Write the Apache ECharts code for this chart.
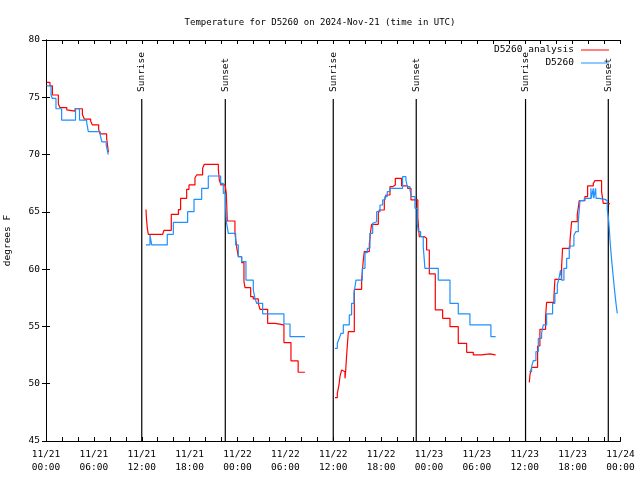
<!DOCTYPE html>
<html>
<head>
<meta charset="utf-8">
<script src="https://cdn.jsdelivr.net/npm/echarts@6/dist/echarts.min.js"></script>
<style>html,body{margin:0;padding:0;background:#fff}#c{width:640px;height:480px}</style>
</head>
<body>
<div id="c"></div>
<script>
// Hours since 2024-11-21 00:00 UTC
const tickLabels = ['11/21\n00:00','11/21\n06:00','11/21\n12:00','11/21\n18:00','11/22\n00:00','11/22\n06:00','11/22\n12:00','11/22\n18:00','11/23\n00:00','11/23\n06:00','11/23\n12:00','11/23\n18:00','11/24\n00:00'];

// null temperature = gap between data runs
const analysisHours = [
  0.08,0.5,0.8,1.55,1.75,2.6,2.8,3.64,4.56,4.8,5.6,5.8,6.6,6.77,7.6,7.75,7.82,
  7.82,
  12.53,12.6,12.7,12.82,14.62,14.79,15.7,16.6,16.87,17.63,17.92,18.67,18.88,19.63,19.84,21.6,21.72,21.93,22.45,22.6,22.72,23.68,23.89,24.1,24.52,24.81,24.94,25.65,25.98,26.61,26.82,27.78,28.7,29.82,30.7,31.6,32.45,
  32.45,
  36.22,36.51,36.72,36.84,37.05,37.26,37.47,37.55,37.68,37.89,38.64,39.56,39.68,39.77,39.89,40.52,40.68,40.81,41.65,41.77,42.4,42.61,43.11,43.44,43.78,44.57,45.32,45.74,46.6,46.78,47.41,47.7,48.04,48.79,49.71,50.63,51.67,52.72,53.55,54.59,55.64,56.35,
  56.35,
  60.57,60.65,60.86,61.61,61.9,62.61,62.74,63.66,63.78,64.62,64.74,65.66,65.87,66.58,66.83,67.54,67.88,68.59,68.8,69.63,69.84,70.34,70.68
];
const analysisTemps = [
  76.3,76.0,75.2,74.4,74.1,73.9,73.8,74.0,73.5,73.1,72.9,72.6,72.2,71.8,71.4,70.6,70.2,
  null,
  65.2,64.3,63.56,63.04,63.21,63.39,64.78,65.2,66.18,66.97,67.35,67.98,68.22,68.8,69.15,68.71,67.78,67.35,67.49,66.6,64.2,63.13,61.96,61.09,60.57,58.91,58.38,57.6,57.4,57.02,56.49,55.27,55.13,53.59,52.0,51.0,51.0,
  null,
  48.78,49.16,49.89,50.62,51.2,51.05,50.47,51.05,52.51,54.54,58.24,59.05,60.07,60.8,61.53,62.2,63.27,63.91,64.87,65.16,65.98,66.47,67.2,67.34,67.93,67.26,67.05,66.04,64.5,62.83,62.69,61.67,59.58,56.44,55.71,54.98,53.52,52.74,52.51,52.6,52.51,52.51,
  null,
  50.12,50.76,51.43,53.29,54.75,55.85,57.1,57.6,59.11,60.22,61.82,62.4,64.14,64.73,65.98,66.33,67.26,67.49,67.72,66.76,65.74,65.69,65.69
];

const stationHours = [
  0.08,0.63,0.79,1.25,1.96,3.7,4.2,5.1,5.3,6.8,7.0,7.55,7.8,
  7.8,
  12.53,13.03,13.25,15.2,15.96,17.75,18.55,19.51,20.34,21.89,22.22,22.5,22.6,22.85,23.77,24.1,24.52,25.06,25.98,26.19,26.4,27.15,29.82,30.58,32.45,
  32.45,
  36.22,36.51,36.76,36.97,37.26,38.01,38.3,38.6,38.85,39.64,39.98,40.27,40.6,40.94,41.14,41.44,41.86,42.19,42.48,42.77,43.11,44.69,45.11,45.28,45.61,45.82,46.24,46.53,46.66,46.95,47.28,47.49,49.16,50.63,51.67,53.13,55.76,56.35,
  56.35,
  60.57,60.86,61.07,61.4,61.7,62.11,62.32,62.74,63.49,63.78,64.08,64.33,64.49,64.62,64.91,65.25,65.58,66.16,66.41,66.71,66.92,67.46,68.29,68.35,68.59,68.65,68.88,68.94,69.34,70.05,70.34,70.47,70.59,70.72,70.84,70.97,71.09,71.22,71.34,71.47,71.6
];
const stationTemps = [
  76.0,75.2,74.9,74.0,73.0,74.0,73.0,72.8,72.0,71.7,71.1,70.8,70.0,
  null,
  62.11,62.98,62.11,63.04,64.09,65.02,66.09,67.05,68.13,67.49,66.62,65.5,64.15,63.13,62.11,61.09,60.65,59.05,58.18,57.45,57.02,56.09,55.21,54.11,54.11,
  null,
  53.09,53.53,53.96,54.4,55.13,56.0,57.02,57.89,59.05,60.07,61.44,61.82,63.13,64.0,64.14,65.02,65.6,66.04,66.33,66.76,67.05,68.07,67.78,67.2,66.91,66.33,65.31,64.0,63.27,62.83,61.96,60.07,59.05,57.02,56.09,55.13,54.11,54.11,
  null,
  51.05,51.49,52.01,52.8,53.96,54.4,55.13,56.09,57.02,57.89,58.62,59.34,59.93,59.05,60.07,60.94,62.02,62.98,63.27,64.14,65.98,66.18,67.05,66.18,67.05,66.18,67.05,66.18,66.09,65.98,65.2,64.58,63.56,62.2,61.2,60.2,59.34,58.4,57.6,56.8,56.14
];

const sunHours = [12.0, 22.47, 36.0, 46.4, 60.1, 70.47];
const sunLabels = ['Sunrise','Sunset','Sunrise','Sunset','Sunrise','Sunset'];

const titleText = 'Temperature for D5260 on 2024-Nov-21 (time in UTC)';
const seriesNames = ['D5260 analysis', 'D5260'];

function pairs(xs, ys) { return xs.map((x, i) => [x, ys[i] === null ? '-' : ys[i]]); }

const FONT = 'DejaVu Sans Mono';
const FS = 9.5;
const chart = echarts.init(document.getElementById('c'), null, {renderer: 'canvas'});

const xCommon = {
  type: 'value', min: 0, max: 72, interval: 2,
  axisLine: {show: true, lineStyle: {color: '#000', width: 1}},
  axisTick: {show: true, inside: true, length: 4, lineStyle: {color: '#000'}},
  splitLine: {show: false}
};
const yCommon = {
  type: 'value', min: 45, max: 80, interval: 5,
  axisLine: {show: true, lineStyle: {color: '#000', width: 1}},
  axisTick: {show: true, inside: true, length: 4, lineStyle: {color: '#000'}},
  splitLine: {show: false}
};

chart.setOption({
  animation: false,
  backgroundColor: '#fff',
  title: {
    text: titleText, left: 'center', top: 13,
    textStyle: {fontFamily: FONT, fontSize: 9, fontWeight: 'normal', color: '#000'}
  },
  legend: {
    orient: 'vertical', right: 31, top: 44, align: 'right', padding: 0,
    itemGap: 1, itemWidth: 28, itemHeight: 1, icon: 'rect',
    data: seriesNames,
    textStyle: {fontFamily: FONT, fontSize: FS, color: '#000', lineHeight: 12, padding: [0, 2, 0, 0]}
  },
  grid: {left: 46, right: 19.5, top: 40, bottom: 39, containLabel: false, outerBoundsMode: 'none'},
  xAxis: [
    Object.assign({}, xCommon, {
      position: 'bottom',
      axisLabel: {
        show: true, margin: 7, fontFamily: FONT, fontSize: FS, color: '#000', lineHeight: 13,
        formatter: v => (v % 6 === 0 ? tickLabels[v / 6] : '')
      }
    }),
    Object.assign({}, xCommon, {position: 'top', axisLabel: {show: false}})
  ],
  yAxis: [
    Object.assign({}, yCommon, {
      position: 'left',
      name: 'degrees F', nameLocation: 'middle', nameGap: 33, nameRotate: 90,
      nameTextStyle: {fontFamily: FONT, fontSize: FS, color: '#000'},
      axisLabel: {show: true, margin: 6, fontFamily: FONT, fontSize: FS, color: '#000'}
    }),
    Object.assign({}, yCommon, {position: 'right', axisLabel: {show: false}})
  ],
  series: [
    {
      type: 'custom', name: 'sun', silent: true, z: 1,
      data: sunHours.map((h, i) => [h, i]),
      renderItem: function (params, api) {
        const h = api.value(0);
        const idx = api.value(1);
        const top = api.coord([h, 74.85]);
        const bot = api.coord([h, 45]);
        return {
          type: 'group',
          children: [
            {type: 'line', shape: {x1: top[0], y1: top[1], x2: bot[0], y2: bot[1]},
             style: {stroke: '#000', lineWidth: 1.2}},
            {type: 'text', x: top[0], y: top[1] - 7, rotation: Math.PI / 2,
             style: {text: sunLabels[idx], x: 0, y: 0, align: 'left', verticalAlign: 'middle',
                     font: FS + 'px "' + FONT + '"', fill: '#000'}}
          ]
        };
      }
    },
    {
      type: 'line', name: seriesNames[0], step: 'end', symbol: 'none', z: 3,
      data: pairs(analysisHours, analysisTemps), connectNulls: false,
      lineStyle: {color: '#ff0000', width: 1.2}, itemStyle: {color: '#ff0000'}
    },
    {
      type: 'line', name: seriesNames[1], step: 'end', symbol: 'none', z: 4,
      data: pairs(stationHours, stationTemps), connectNulls: false,
      lineStyle: {color: '#1e90ff', width: 1.2}, itemStyle: {color: '#1e90ff'}
    }
  ]
});
</script>
</body>
</html>
